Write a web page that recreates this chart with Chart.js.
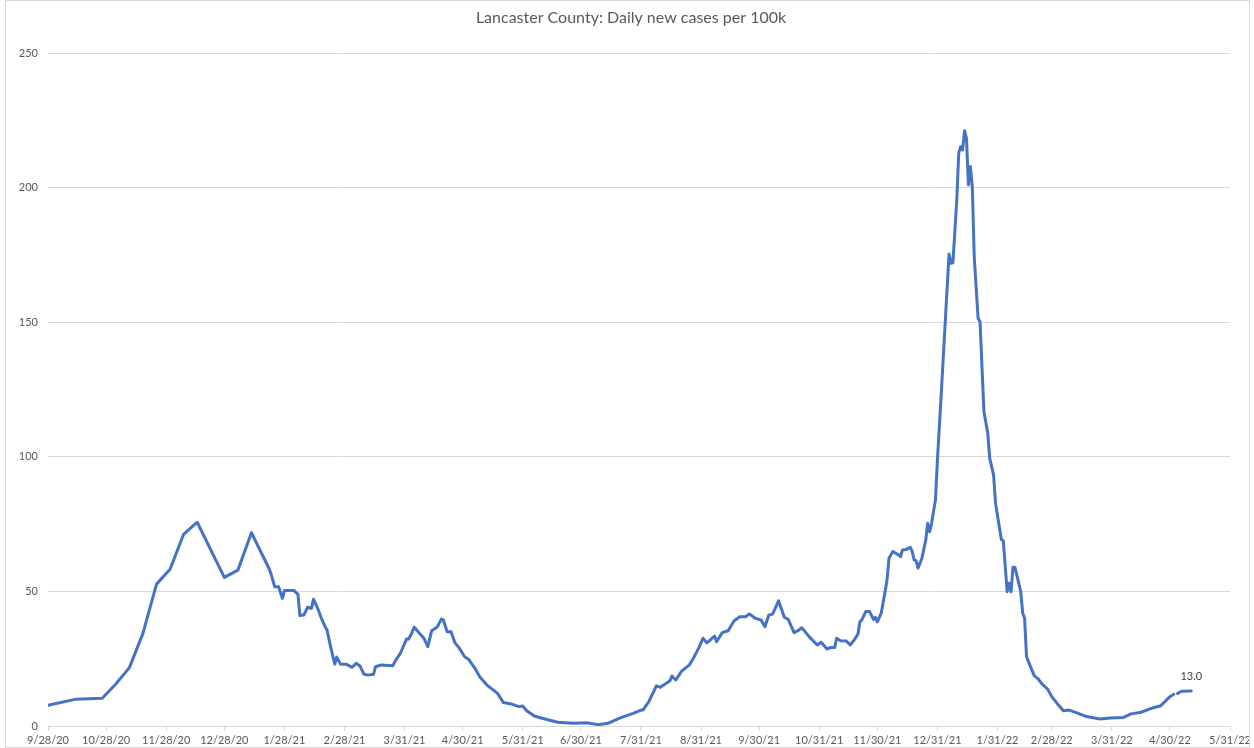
<!DOCTYPE html>
<html>
<head>
<meta charset="utf-8">
<title>Lancaster County: Daily new cases per 100k</title>
<script src="https://cdn.jsdelivr.net/npm/chart.js@4.4.1/dist/chart.umd.min.js"></script>
<style>
  html, body { margin: 0; padding: 0; background: #fff; }
  #wrap { width: 1254px; height: 748px; }
</style>
</head>
<body>
<div id="wrap"><canvas id="chart" width="1254" height="748"></canvas></div>
<script>
// days counted from 9/28/20
const days = [
    0, 14, 28, 35, 42, 49, 56, 63, 70, 77, 91, 98, 105, 114, 115, 117, 119, 121, 122, 127,
    129, 130, 132, 134, 136, 137, 139, 141, 143, 144, 146, 148, 149, 151, 154, 157, 159, 161, 163, 165,
    168, 169, 172, 178, 179, 182, 185, 186, 187, 189, 191, 194, 196, 198, 201, 203, 204, 206, 208, 210,
    212, 215, 217, 220, 223, 227, 232, 235, 239, 243, 245, 247, 251, 255, 263, 271, 278, 284, 289, 295,
    302, 306, 307, 310, 314, 316, 321, 322, 324, 327, 331, 333, 336, 338, 340, 344, 345, 348, 351, 354,
    357, 360, 362, 365, 368, 370, 372, 374, 377, 380, 382, 385, 387, 389, 393, 397, 399, 402, 404, 406,
    407, 409, 412, 414, 416, 418, 419, 420, 422, 424, 426, 427, 428, 430, 432, 433, 434, 436, 439, 440,
    441, 443, 445, 446, 447, 448, 449, 451, 453, 454, 455, 456, 458, 459, 461, 463, 465, 466, 467, 469,
    470, 471, 472, 473, 474, 475, 476, 477, 478, 480, 481, 483, 485, 486, 488, 489, 492, 493, 495, 496,
    497, 498, 499, 502, 503, 504, 505, 506, 509, 511, 513, 516, 518, 521, 524, 527, 531, 536, 543, 548,
    555, 559, 564, 568, 570, 574, 576, 579, 581, 582, 583, 585, 590
];

const cases = [
    7.7, 9.9, 10.3, 15.6, 21.7, 34.4, 52.7, 58.2, 71.2, 75.7, 55.2, 57.9, 71.8, 58.6, 56.7, 51.7, 51.7, 47.4, 50.3, 50.3,
    48.9, 41.0, 41.2, 44.1, 43.7, 47.1, 44.0, 40.2, 36.9, 35.7, 28.9, 23.0, 25.6, 22.9, 22.9, 21.8, 23.3, 22.3, 19.3, 18.9,
    19.2, 22.0, 22.7, 22.4, 23.9, 27.2, 32.3, 32.2, 33.4, 36.7, 35.0, 32.6, 29.5, 35.4, 36.9, 39.7, 39.4, 35.0, 35.0, 30.9,
    29.2, 25.7, 24.8, 21.8, 18.1, 14.9, 12.1, 8.7, 8.2, 7.2, 7.4, 5.7, 3.7, 2.9, 1.4, 1.0, 1.2, 0.5, 1.0, 2.9,
    4.7, 5.9, 5.9, 9.0, 14.9, 14.4, 16.8, 18.6, 17.1, 20.4, 22.7, 25.1, 29.2, 32.6, 30.9, 33.4, 31.3, 34.7, 35.4, 39.0,
    40.6, 40.6, 41.6, 40.0, 39.4, 36.9, 41.2, 41.6, 46.5, 40.4, 39.6, 34.7, 35.4, 36.5, 33.0, 30.1, 31.1, 28.6, 29.2, 29.2,
    32.6, 31.7, 31.6, 30.1, 31.9, 34.2, 38.7, 39.4, 42.5, 42.5, 39.6, 40.4, 38.7, 41.9, 49.9, 54.2, 62.3, 64.8, 63.5, 62.9,
    65.4, 65.6, 66.4, 64.8, 61.7, 61.4, 58.6, 62.3, 69.1, 75.3, 72.2, 75.3, 84.0, 98.8, 123.6, 149.6, 175.3, 171.9, 172.1, 195.4,
    212.7, 215.2, 214.0, 221.1, 218.3, 201.0, 207.8, 200.4, 174.3, 151.4, 150.2, 116.8, 108.7, 99.4, 93.2, 82.7, 69.3, 68.8, 49.9, 53.0,
    49.9, 59.0, 59.0, 50.0, 42.0, 40.0, 25.7, 23.9, 18.6, 17.5, 15.6, 13.6, 10.9, 8.2, 5.7, 5.9, 4.9, 3.5, 2.6, 3.0,
    3.2, 4.5, 5.1, 6.2, 6.7, 7.4, 8.8, 10.9, 11.8, null, 12.1, 12.9, 13.0
];

const tickDays = [0, 30, 61, 91, 122, 153, 184, 214, 245, 275, 306, 337, 367, 398, 428, 459, 490, 518, 549, 579, 610];
const tickLabels = [
    '9/28/20', '10/28/20', '11/28/20', '12/28/20', '1/28/21', '2/28/21', '3/31/21', '4/30/21', '5/31/21', '6/30/21',
    '7/31/21', '8/31/21', '9/30/21', '10/31/21', '11/30/21', '12/31/21', '1/31/22', '2/28/22', '3/31/22', '4/30/22', '5/31/22'
];

const chartTitle = 'Lancaster County: Daily new cases per 100k';
const fontFamily = 'Lato, "Open Sans", sans-serif';
const textColor = '#595959';
const gridColor = '#d9d9d9';

const points = days.map((d, i) => ({ x: d, y: cases[i] }));

// title, outer frame and the last value label
const decorations = {
    id: 'decorations',
    afterDraw(chart) {
        const ctx = chart.ctx;
        ctx.save();
        ctx.strokeStyle = gridColor;
        ctx.lineWidth = 1;
        ctx.strokeRect(5.5, 0.5, 1244, 747);

        ctx.fillStyle = textColor;
        ctx.font = '16px ' + fontFamily;
        ctx.textAlign = 'center';
        ctx.textBaseline = 'middle';
        ctx.fillText(chartTitle, chart.width / 2 + 4, 18);

        const meta = chart.getDatasetMeta(0);
        const last = meta.data[meta.data.length - 1];
        ctx.fillStyle = '#404040';
        ctx.font = '11px ' + fontFamily;
        ctx.fillText(cases[cases.length - 1].toFixed(1), last.x, last.y - 15);
        ctx.restore();
    }
};

const ctx = document.getElementById('chart').getContext('2d');

const myChart = new Chart(ctx, {
    type: 'line',
    data: {
        datasets: [{
            label: 'Daily new cases per 100k',
            data: points,
            borderColor: '#4472C4',
            borderWidth: 3,
            pointRadius: 0,
            tension: 0,
            spanGaps: false,
            borderJoinStyle: 'round',
            borderCapStyle: 'round',
            fill: false
        }]
    },
    options: {
        responsive: false,
        animation: false,
        devicePixelRatio: 1,
        layout: {
            padding: { top: 53, left: 0, right: 24, bottom: 0 }
        },
        plugins: {
            legend: { display: false },
            title: { display: false },
            tooltip: { enabled: false }
        },
        scales: {
            x: {
                type: 'linear',
                min: 0,
                max: 610,
                afterBuildTicks: function(scale) {
                    scale.ticks = tickDays.map(v => ({ value: v }));
                },
                afterFit: function(scale) {
                    scale.height = 22;
                },
                ticks: {
                    autoSkip: false,
                    maxRotation: 0,
                    minRotation: 0,
                    padding: 3,
                    color: textColor,
                    font: { family: fontFamily, size: 11 },
                    callback: function(value, index) {
                        return tickLabels[index];
                    }
                },
                grid: {
                    display: true,
                    drawOnChartArea: false,
                    drawTicks: true,
                    tickLength: 5,
                    color: gridColor
                },
                border: { display: true, color: gridColor }
            },
            y: {
                min: 0,
                max: 250,
                afterFit: function(scale) {
                    scale.width = 48;
                },
                ticks: {
                    stepSize: 50,
                    padding: 10,
                    color: textColor,
                    font: { family: fontFamily, size: 11 }
                },
                grid: {
                    color: gridColor,
                    drawTicks: false
                },
                border: { display: false }
            }
        }
    },
    plugins: [decorations]
});
</script>
</body>
</html>
